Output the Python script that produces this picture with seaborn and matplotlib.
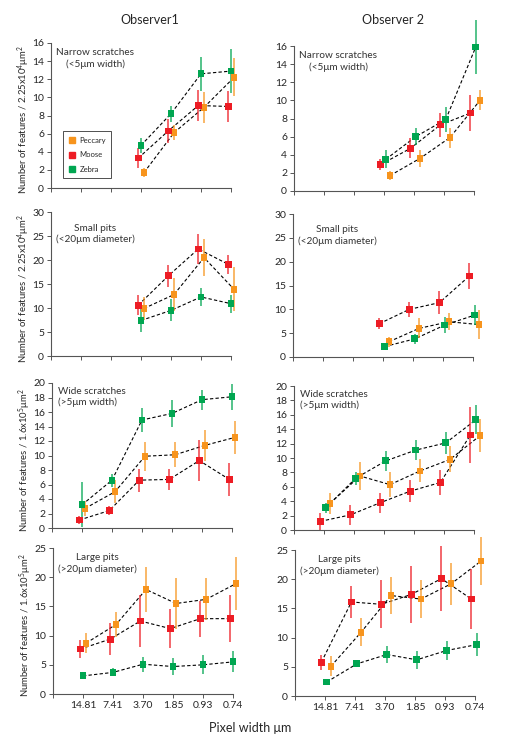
import matplotlib
matplotlib.use("Agg")
import matplotlib.pyplot as plt
from matplotlib.lines import Line2D
import numpy as np
import pandas as pd
import seaborn as sns

species = ["Peccary", "Moose", "Zebra"]
colors = {"Peccary": "#f7941d", "Moose": "#ed1c24", "Zebra": "#00a651"}
pixel_widths = ["14.81", "7.41", "3.70", "1.85", "0.93", "0.74"]
positions = [1, 2, 3, 4, 5, 6]

# means and error half-lengths, one entry per pixel width (None = not measured)
N = None
narrow_obs1 = {"Peccary": [N, N, 1.7, 6.1, 8.9, 12.2], "Moose": [N, N, 3.3, 6.3, 9.1, 9.0], "Zebra": [N, N, 4.7, 8.2, 12.6, 12.9]}
narrow_obs1_err = {"Peccary": [N, N, 0.5, 0.8, 1.7, 2.1], "Moose": [N, N, 1.1, 1.3, 1.7, 1.7], "Zebra": [N, N, 0.8, 0.9, 1.9, 2.4]}
narrow_obs2 = {"Peccary": [N, N, 1.7, 3.6, 5.9, 10.0], "Moose": [N, N, 2.9, 4.7, 7.3, 8.6], "Zebra": [N, N, 3.5, 6.0, 7.9, 15.9]}
narrow_obs2_err = {"Peccary": [N, N, 0.5, 0.9, 1.1, 1.1], "Moose": [N, N, 0.6, 1.1, 1.3, 2.0], "Zebra": [N, N, 1.0, 0.9, 1.4, 3.0]}

small_obs1 = {"Peccary": [N, N, 9.9, 12.8, 20.5, 13.9], "Moose": [N, N, 10.6, 16.7, 22.3, 19.1], "Zebra": [N, N, 7.4, 9.5, 12.3, 10.9]}
small_obs1_err = {"Peccary": [N, N, 2.3, 3.5, 3.9, 4.6], "Moose": [N, N, 2.1, 2.3, 3.2, 2.0], "Zebra": [N, N, 2.3, 2.3, 1.9, 1.9]}
small_obs2 = {"Peccary": [N, N, 3.2, 6.0, 7.4, 6.8], "Moose": [N, N, 7.0, 10.0, 11.4, 17.0], "Zebra": [N, N, 2.2, 3.8, 6.7, 8.8]}
small_obs2_err = {"Peccary": [N, N, 1.1, 2.1, 1.8, 3.0], "Moose": [N, N, 1.1, 1.6, 2.4, 2.8], "Zebra": [N, N, 0.7, 1.0, 1.6, 2.1]}

wide_obs1 = {"Peccary": [2.7, 5.0, 9.9, 10.1, 11.4, 12.5], "Moose": [1.1, 2.4, 6.6, 6.7, 9.3, 6.7], "Zebra": [3.2, 6.6, 14.9, 15.8, 17.7, 18.1]}
wide_obs1_err = {"Peccary": [1.0, 1.6, 2.0, 1.7, 2.1, 2.3], "Moose": [0.5, 0.6, 1.6, 1.5, 2.8, 2.3], "Zebra": [3.1, 0.9, 1.7, 1.9, 1.4, 1.8]}
wide_obs2 = {"Peccary": [3.7, 7.5, 6.3, 8.2, 9.8, 13.1], "Moose": [1.2, 2.1, 3.8, 5.4, 6.6, 13.2], "Zebra": [3.1, 7.2, 9.6, 11.1, 12.1, 15.3]}
wide_obs2_err = {"Peccary": [1.5, 2.0, 1.7, 1.6, 1.8, 2.3], "Moose": [1.2, 1.4, 1.4, 1.5, 1.7, 3.9], "Zebra": [0.7, 0.9, 1.4, 1.4, 1.5, 2.0]}

large_obs1 = {"Peccary": [8.7, 11.9, 17.9, 15.5, 16.2, 18.9], "Moose": [7.7, 9.4, 12.5, 11.2, 12.9, 12.9], "Zebra": [3.1, 3.7, 5.1, 4.7, 5.0, 5.5]}
large_obs1_err = {"Peccary": [1.7, 2.2, 3.9, 4.4, 3.6, 4.6], "Moose": [1.6, 2.8, 4.4, 3.4, 3.1, 4.0], "Zebra": [0.6, 0.7, 1.3, 1.4, 1.6, 1.8]}
large_obs2 = {"Peccary": [5.1, 10.9, 17.2, 16.6, 19.2, 23.1], "Moose": [5.8, 16.1, 15.7, 17.4, 20.1, 16.6], "Zebra": [2.4, 5.5, 7.1, 6.2, 7.8, 8.8]}
large_obs2_err = {"Peccary": [1.7, 2.4, 3.1, 3.3, 3.6, 4.1], "Moose": [1.3, 2.8, 4.1, 4.9, 5.5, 5.1], "Zebra": [0.4, 0.6, 1.5, 1.5, 1.6, 2.0]}

panel_titles = [
    "Narrow scratches\n(<5μm width)",
    "Small pits\n(<20μm diameter)",
    "Wide scratches\n(>5μm width)",
    "Large pits\n(>20μm diameter)",
]
ylabels = [
    "Number of features / 2.25x10$^4$μm$^2$",
    "Number of features / 2.25x10$^4$μm$^2$",
    "Number of features / 1.6x10$^5$μm$^2$",
    "Number of features / 1.6x10$^5$μm$^2$",
]
yticks = [np.arange(0, 17, 2), np.arange(0, 31, 5), np.arange(0, 21, 2), np.arange(0, 26, 5)]

panels = [
    [(narrow_obs1, narrow_obs1_err), (narrow_obs2, narrow_obs2_err)],
    [(small_obs1, small_obs1_err), (small_obs2, small_obs2_err)],
    [(wide_obs1, wide_obs1_err), (wide_obs2, wide_obs2_err)],
    [(large_obs1, large_obs1_err), (large_obs2, large_obs2_err)],
]

# horizontal nudge per species so error bars don't overlap
dodge = [
    {"Moose": -0.09, "Zebra": 0.0, "Peccary": 0.1},
    {"Moose": -0.12, "Zebra": 0.06, "Peccary": 0.2},
]

sns.set_style("ticks")
plt.rcParams["font.family"] = ["Lato", "DejaVu Sans"]
plt.rcParams["mathtext.default"] = "regular"

W, H = 507, 741
fig = plt.figure(figsize=(W / 100, H / 100), dpi=100)

# axes boxes in pixels: left, top, bottom
boxes = [
    [(51, 43, 188), (294, 46, 191)],
    [(51, 212, 356), (293, 214, 357)],
    [(52, 383, 528), (294, 386, 530)],
    [(53, 548, 694), (295, 550, 696)],
]

for r in range(4):
    for c in range(2):
        left, top, bottom = boxes[r][c]
        ax = fig.add_axes([left / W, 1 - bottom / H, 189 / W, (bottom - top) / H])
        values, errs = panels[r][c]
        rows = []
        for sp in species:
            for p, v, e in zip(positions, values[sp], errs[sp]):
                if v is not None:
                    rows.append({"species": sp, "x": p + dodge[c][sp], "value": v, "err": e})
        df = pd.DataFrame(rows)

        sns.lineplot(data=df, x="x", y="value", units="species", estimator=None,
                     color="black", linewidth=0.8, linestyle=(0, (3, 2)),
                     ax=ax, legend=False, zorder=2)
        for sp in species:
            sub = df[df["species"] == sp]
            ax.errorbar(sub["x"], sub["value"], yerr=sub["err"], fmt="none",
                        ecolor=colors[sp], elinewidth=1.1, capsize=0, alpha=0.85,
                        zorder=3, clip_on=False)
        sns.scatterplot(data=df, x="x", y="value", hue="species", palette=colors,
                        marker="s", s=24, linewidth=0, legend=False, ax=ax,
                        zorder=4, clip_on=False)

        ax.set_xlim(0, 6.3)
        ax.set_ylim(yticks[r][0], yticks[r][-1])
        ax.set_yticks(yticks[r])
        ax.set_xticks(range(0, 7))
        if r == 3:
            ax.set_xticklabels([""] + pixel_widths)
        else:
            ax.set_xticklabels([])
        ax.spines["bottom"].set_bounds(0, 6)
        sns.despine(ax=ax)
        for s in ["left", "bottom"]:
            ax.spines[s].set_color("#555555")
            ax.spines[s].set_linewidth(0.8)
        ax.tick_params(axis="both", labelsize=7.5, length=3, width=0.7,
                       color="#555555", pad=2)
        ax.set_xlabel("")
        if c == 0:
            ax.set_ylabel(ylabels[r], fontsize=6.8)
            ax.yaxis.set_label_coords(-0.1, 0.47)
        else:
            ax.set_ylabel("")

        if r == 2:
            ax.text(0.03, 0.975, panel_titles[r], transform=ax.transAxes,
                    ha="left", va="top", fontsize=7.2, linespacing=1.3, color="#333333")
        else:
            ax.text(0.235, 0.92 if r == 1 else 0.965, panel_titles[r], transform=ax.transAxes,
                    ha="center", va="top", multialignment="center",
                    fontsize=7.2, linespacing=1.3, color="#333333")

        if r == 0 and c == 0:
            handles = [Line2D([], [], marker="s", color=colors[sp], linestyle="none",
                              markersize=4.2) for sp in species]
            leg = ax.legend(handles, species, loc="lower left",
                            bbox_to_anchor=(0.045, 0.04), fontsize=5.5,
                            frameon=True, fancybox=False, handlelength=0.8,
                            handletextpad=0.6, borderpad=0.7, labelspacing=1.0)
            leg.get_frame().set_edgecolor("black")
            leg.get_frame().set_linewidth(0.6)

fig.text(150 / W, 1 - 20 / H, "Observer1", ha="center", va="center", fontsize=9)
fig.text(393 / W, 1 - 20 / H, "Observer 2", ha="center", va="center", fontsize=9)
fig.text(250 / W, 1 - 728 / H, "Pixel width μm", ha="center", va="center", fontsize=9)

fig.savefig("out.png", dpi=100)
